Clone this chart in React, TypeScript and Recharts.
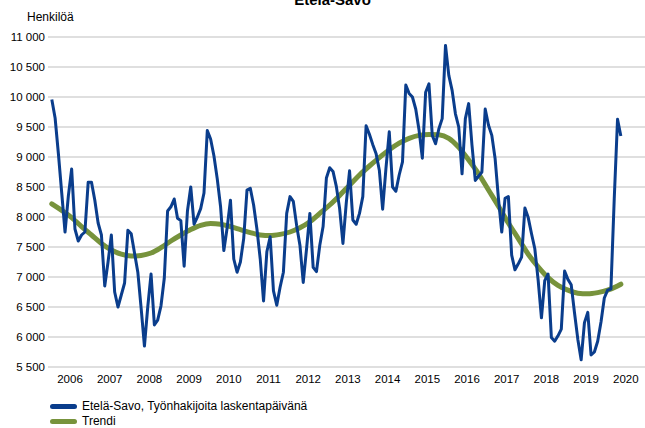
import React from "react";
import { LineChart, Line, XAxis, YAxis, CartesianGrid } from "recharts";

// Monthly values, Jan 2006 .. May 2020
const blueValues = [
  9960, 9650, 9050, 8400, 7750, 8350, 8800, 7800, 7600, 7700, 7750, 8580,
  8580, 8280, 7900, 7700, 6850, 7250, 7700, 6750, 6500, 6700, 6900, 7780,
  7720, 7400, 7080, 6480, 5850, 6500, 7050, 6200, 6280, 6520, 6980, 8100,
  8170, 8300, 7980, 7940, 7180, 8100, 8500, 7880, 8000, 8140, 8400, 9440,
  9300, 9020, 8640, 8180, 7440, 7820, 8280, 7300, 7080, 7250, 7640, 8450,
  8480, 8200, 7800, 7300, 6600, 7420, 7670, 6770, 6530, 6830, 7080, 8060,
  8340, 8260, 7860, 7530, 6910, 7470, 8060, 7160, 7090, 7530, 7840, 8650,
  8820, 8760, 8510, 8140, 7560, 8230, 8770, 7950, 7880, 8060, 8340, 9520,
  9380, 9210, 9060, 8780, 8130, 8810, 9420, 8500, 8430, 8700, 8920, 10200,
  10060, 10000, 9800, 9450, 8980, 10080, 10220, 9360, 9220, 9470, 9640, 10860,
  10360, 10110, 9720, 9500, 8720, 9640, 9890, 9200, 8610, 8680, 8750, 9800,
  9530, 9360, 8970, 8310, 7750, 8310, 8340, 7365, 7120, 7220, 7330, 8150,
  7990, 7720, 7470, 6950, 6320, 6940, 7050, 5990, 5930, 6020, 6130, 7100,
  6960, 6870, 6400, 5960, 5620, 6240, 6410, 5700, 5750, 5930, 6250, 6650,
  6780, 6800, 8300, 9630, 9350,
];

// Trend read at quarterly month indexes
const trendMonths = [
  0, 3, 6, 9, 12, 15, 18, 21, 24, 27, 30, 33, 36, 39, 42, 45, 48, 51, 54, 57,
  60, 63, 66, 69, 72, 75, 78, 81, 84, 87, 90, 93, 96, 99, 102, 105, 108, 111,
  114, 117, 120, 123, 126, 129, 132, 135, 138, 141, 144, 147, 150, 153, 156,
  159, 162, 165, 168, 171, 172,
];
const trendValues = [
  8220, 8110, 7990, 7840, 7700, 7560, 7450, 7380, 7350, 7360, 7400, 7490,
  7600, 7700, 7790, 7860, 7890, 7880, 7840, 7790, 7740, 7700, 7690, 7710,
  7750, 7820, 7920, 8060, 8200, 8360, 8530, 8700, 8850, 8990, 9120, 9230,
  9310, 9360, 9375, 9370, 9310, 9160, 8950, 8720, 8450, 8180, 7900, 7640,
  7380, 7170, 6990, 6860, 6780, 6730, 6720, 6740, 6780, 6850, 6880,
];

const years = [2006, 2007, 2008, 2009, 2010, 2011, 2012, 2013, 2014, 2015, 2016, 2017, 2018, 2019, 2020];
const yTicks = [5500, 6000, 6500, 7000, 7500, 8000, 8500, 9000, 9500, 10000, 10500, 11000];

const seriesName = "Etelä-Savo, Työnhakijoita laskentapäivänä";
const trendName = "Trendi";
const title = "Etelä-Savo";
const unitLabel = "Henkilöä";

const blueData = blueValues.map((v, i) => ({ m: i, v }));
const trendData = trendMonths.map((m, i) => ({ m, t: trendValues[i] }));
const xTicks = years.map((_, k) => 5.5 + 12 * k);

const BLUE = "#0a3d8c";
const GREEN = "#77933c";
const FONT = "'Liberation Sans', Arial, sans-serif";

const fmtY = (v: number) => {
  const th = Math.floor(v / 1000);
  const rest = String(v % 1000).padStart(3, "0");
  return `${th} ${rest}`;
};

export default function App() {
  return (
    <div style={{ position: "absolute", left: 0, top: 0, width: 645, height: 428, overflow: "hidden", fontFamily: FONT, background: "#fff" }}>
      <div style={{ position: "absolute", left: 0, width: 665, top: -8, textAlign: "center", fontWeight: "bold", fontSize: 15, lineHeight: "15px", color: "#000" }}>
        {title}
      </div>
      <div style={{ position: "absolute", left: 27, top: 10, fontSize: 12, lineHeight: "14px", color: "#000" }}>{unitLabel}</div>
      <LineChart width={645} height={428} data={blueData} margin={{ top: 37, right: 0, bottom: 41, left: 0 }}>
        <CartesianGrid vertical={false} stroke="#bfbfbf" strokeWidth={1} />
        <XAxis
          dataKey="m"
          type="number"
          domain={[-1.15, 179.3]}
          ticks={xTicks}
          tickFormatter={(v: number) => String(years[Math.round((v - 5.5) / 12)])}
          axisLine={false}
          tickLine={false}
          height={20}
          tick={{ fontSize: 11.5, fill: "#000", fontFamily: FONT }}
          allowDataOverflow
          interval={0}
        />
        <YAxis
          type="number"
          domain={[5500, 11000]}
          ticks={yTicks}
          tickFormatter={fmtY}
          axisLine={false}
          tickLine={false}
          tickSize={0}
          tickMargin={3}
          width={48}
          tick={{ fontSize: 11.5, fill: "#000", fontFamily: FONT }}
          interval={0}
        />
        <Line data={trendData} dataKey="t" type="monotone" stroke={GREEN} strokeWidth={5} dot={false} isAnimationActive={false} strokeLinecap="round" />
        <Line dataKey="v" type="linear" stroke={BLUE} strokeWidth={3} dot={false} isAnimationActive={false} strokeLinejoin="round" />
      </LineChart>
      <div style={{ position: "absolute", left: 50, top: 399, fontSize: 12, color: "#000", lineHeight: "15px" }}>
        <div style={{ display: "flex", alignItems: "center" }}>
          <span style={{ display: "inline-block", width: 27, height: 5, borderRadius: 3, background: BLUE, marginRight: 5 }} />
          {seriesName}
        </div>
        <div style={{ display: "flex", alignItems: "center" }}>
          <span style={{ display: "inline-block", width: 27, height: 5, borderRadius: 3, background: GREEN, marginRight: 5 }} />
          {trendName}
        </div>
      </div>
    </div>
  );
}
